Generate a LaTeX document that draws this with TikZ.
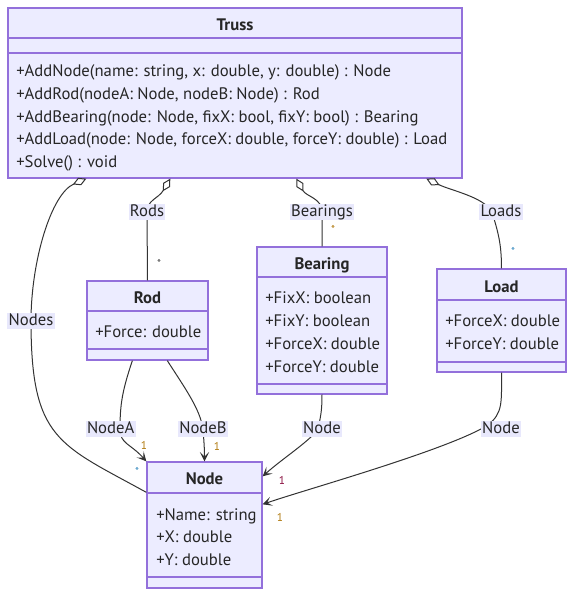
\documentclass[tikz,border=0pt]{standalone}
\usepackage{fontspec}
\setmainfont{PT Sans}
\usetikzlibrary{arrows.meta,fit,calc}

\definecolor{boxfill}{HTML}{ECECFF}
\definecolor{boxline}{HTML}{9370DB}
\definecolor{edgeline}{HTML}{333333}
\definecolor{labelfill}{HTML}{E8E8FC}
\definecolor{multblue}{HTML}{3A8CC0}
\definecolor{multgold}{HTML}{B07A10}
\definecolor{multred}{HTML}{8A1040}

\newcommand{\umlfont}{\fontsize{12.5pt}{15pt}\selectfont}

\begin{document}
\begin{tikzpicture}[x=0.75pt,y=-0.75pt,font=\umlfont,
  classbox/.style={draw=boxline,fill=boxfill,line width=1pt,inner sep=0pt},
  divider/.style={draw=boxline,line width=1pt},
  classname/.style={anchor=base,inner sep=0pt,yshift=-4.4pt,font=\umlfont\bfseries,text=black!85},
  member/.style={anchor=base west,inner sep=0pt,yshift=-4.4pt,text=black!85},
  edge/.style={draw=edgeline,line width=0.75pt},
  aggr/.style={edge,{Diamond[open,length=11pt,width=6pt]}-},
  assoc/.style={edge,-{Stealth[length=7pt,width=7pt,inset=3.5pt]}},
  edgelabel/.style={fill=labelfill,inner xsep=1pt,inner ysep=0pt,text height=9pt,text depth=2.5pt,text=black!85},
  mult/.style={font=\fontsize{8.5pt}{10pt}\selectfont,inner sep=0pt}]
  \useasboundingbox (0,0) rectangle (582,604);

  % Truss
  \node[classbox,fit={(8,8) (462,178)}] (trussbox) {};
  \draw[divider] (8,38) -- (462,38);
  \draw[divider] (8,53) -- (462,53);
  \node[classname] (trussname) at (235,25) {Truss};
  \node[member] (trussm1) at (16,71) {+AddNode(name: string, x: double, y: double) : Node};
  \node[member] (trussm2) at (16,94) {+AddRod(nodeA: Node, nodeB: Node) : Rod};
  \node[member] (trussm3) at (16,117) {+AddBearing(node: Node, fixX: bool, fixY: bool) : Bearing};
  \node[member] (trussm4) at (16,139) {+AddLoad(node: Node, forceX: double, forceY: double) : Load};
  \node[member] (trussm5) at (16,162) {+Solve() : void};

  % Rod
  \node[classbox,fit={(87,281) (208,360)}] (rodbox) {};
  \draw[divider] (87,311) -- (208,311);
  \draw[divider] (87,349) -- (208,349);
  \node[classname] (rodname) at (147.5,298) {Rod};
  \node[member] (rodm1) at (95,332) {+Force: double};

  % Bearing
  \node[classbox,fit={(257,247) (387,394)}] (bearingbox) {};
  \draw[divider] (257,277) -- (387,277);
  \draw[divider] (257,384) -- (387,384);
  \node[classname] (bearingname) at (322,264) {Bearing};
  \node[member] (bearingm1) at (265,298) {+FixX: boolean};
  \node[member] (bearingm2) at (265,321) {+FixY: boolean};
  \node[member] (bearingm3) at (265,344) {+ForceX: double};
  \node[member] (bearingm4) at (265,367) {+ForceY: double};

  % Load
  \node[classbox,fit={(437,269) (566,372)}] (loadbox) {};
  \draw[divider] (437,300) -- (566,300);
  \draw[divider] (437,362) -- (566,362);
  \node[classname] (loadname) at (501.5,287) {Load};
  \node[member] (loadm1) at (445,321) {+ForceX: double};
  \node[member] (loadm2) at (445,344) {+ForceY: double};

  % Node
  \node[classbox,fit={(147,462) (262,588)}] (nodebox) {};
  \draw[divider] (147,493) -- (262,493);
  \draw[divider] (147,577) -- (262,577);
  \node[classname] (nodename) at (204.5,479) {Node};
  \node[member] (nodem1) at (156,515) {+Name: string};
  \node[member] (nodem2) at (156,537) {+X: double};
  \node[member] (nodem3) at (156,560) {+Y: double};

  % aggregations
  \draw[aggr] ($(trussbox.south west)+(79,0)$) .. controls +(-35,15) and +(0,-60) .. (31,321)
    node[edgelabel] (lblNodes) {Nodes}
    .. controls +(0,119) and +(-87,-48) .. ($(nodebox.north west)+(0,31)$);
  \draw[aggr] ($(trussbox.south west)+(163,0)$) .. controls +(-12,20) and +(0,-12) .. (147,212)
    node[edgelabel] (lblRods) {Rods} -- (rodbox.north);
  \draw[aggr] ($(trussbox.south west)+(289,0)$) .. controls +(10,18) and +(0,-14) .. (322,212)
    node[edgelabel] (lblBearings) {Bearings} -- (bearingbox.north);
  \draw[aggr] ($(trussbox.south west)+(419,0)$) .. controls +(25,12) and +(-8,-15) .. (492,212)
    node[edgelabel,xshift=6.75pt] (lblLoads) {Loads}
    .. controls +(6,20) and +(0,-25) .. (loadbox.north);

  % associations
  \draw[assoc] ($(rodbox.south west)+(46,0)$) .. controls +(-10,30) and +(0,-25) .. (120,429)
    node[edgelabel,xshift=-7pt] (lblNodeA) {NodeA}
    .. controls +(0,15) and +(-16,-18) .. (nodebox.north west);
  \draw[assoc] ($(rodbox.south west)+(81,0)$) .. controls +(18,28) and +(-3,-20) .. (203,429)
    node[edgelabel] (lblNodeB) {NodeB}
    .. controls +(1,14) and +(0,-14) .. (nodebox.north);
  \draw[assoc] (bearingbox.south) .. controls +(0,15) and +(3,-14) .. (318,429)
    node[edgelabel,xshift=3pt] (lblBearingNode) {Node}
    .. controls +(-8,12) and +(20,-18) .. ($(nodebox.north east)+(0,15)$);
  \draw[assoc] (loadbox.south) .. controls +(0,30) and +(15,-12) .. (488,425)
    node[edgelabel,xshift=9.75pt,yshift=-3pt] (lblLoadNode) {Node}
    .. controls +(-40,25) and +(40,-14) .. ($(nodebox.north east)+(0,43)$);

  % multiplicities
  \node[mult,text=multblue] (multNodes) at (137,471) {*};
  \node[mult,text=black!70] (multRods) at (159,263) {*};
  \node[mult,text=multgold] (multBearings) at (333,229) {*};
  \node[mult,text=multblue] (multLoads) at (513,251) {*};
  \node[mult,text=multgold] (multNodeA) at (144,445) {1};
  \node[mult,text=multgold] (multNodeB) at (217,446) {1};
  \node[mult,text=multred] (multBearingNode) at (282,480) {1};
  \node[mult,text=multgold] (multLoadNode) at (280,517) {1};
\end{tikzpicture}
\end{document}
